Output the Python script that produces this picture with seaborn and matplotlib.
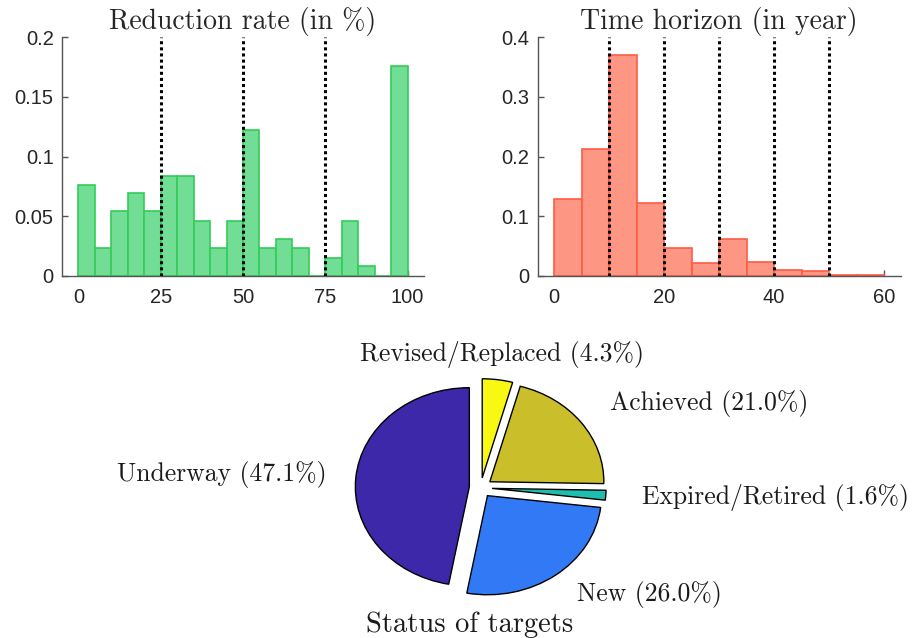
import numpy as np
import matplotlib
matplotlib.use("Agg")
import matplotlib.pyplot as plt
import seaborn as sns

# ---- data ----
rate_edges = list(range(0, 105, 5))
rate_heights = [0.076, 0.023, 0.054, 0.069, 0.054, 0.084, 0.084, 0.046, 0.023, 0.046,
                0.122, 0.023, 0.031, 0.023, 0.0, 0.015, 0.046, 0.008, 0.0, 0.176]
rate_lines = [25, 50, 75]

time_edges = list(range(0, 65, 5))
time_heights = [0.128, 0.212, 0.370, 0.1225, 0.047, 0.022, 0.062, 0.023, 0.010, 0.0085,
                0.0006, 0.001]
time_lines = [10, 20, 30, 40, 50]

status_labels = ["Revised/Replaced", "Achieved", "Expired/Retired", "New", "Underway"]
status_pct = [4.3, 21.0, 1.6, 26.0, 47.1]
status_colors = ["#f8f913", "#cabf2b", "#1fbdb0", "#3279f6", "#3d28a9"]

sns.set_style("ticks")
plt.rcParams['font.family'] = ['Liberation Sans', 'DejaVu Sans']
plt.rcParams['axes.formatter.use_mathtext'] = False

SERIF = 'cmr10'

fig = plt.figure(figsize=(9.13, 6.38), dpi=100)

def hist_panel(rect, edges, heights, lines, face, edge, xlim, ylim, yticks, xticks, title):
    ax = fig.add_axes(rect)
    centers = [(edges[i] + edges[i + 1]) / 2 for i in range(len(heights))]
    sns.histplot(x=centers, weights=heights, bins=edges, ax=ax,
                 color=face, edgecolor=edge, linewidth=1.2, alpha=1.0)
    for v in lines:
        ax.axvline(v, color='black', linestyle=(0, (1, 1)), linewidth=2.2, zorder=5)
    ax.set_xlim(*xlim)
    ax.set_ylim(*ylim)
    ax.set_yticks(yticks)
    ax.set_yticklabels([f"{t:g}" for t in yticks])
    ax.set_xticks(xticks)
    ax.set_xticklabels([str(t) for t in xticks])
    ax.set_xlabel("")
    ax.set_ylabel("")
    sns.despine(ax=ax)
    for s in ['left', 'bottom']:
        ax.spines[s].set_color('#555555')
        ax.spines[s].set_linewidth(1.0)
    ax.tick_params(axis='both', direction='in', length=4, width=1, color='#555555',
                   labelsize=14.5, labelcolor='#262626')
    ax.tick_params(axis='x', pad=9)
    ax.tick_params(axis='y', pad=6)
    ax.set_title(title, fontfamily=SERIF, fontsize=20, pad=6)
    return ax

hist_panel([0.0679, 0.5679, 0.3965, 0.3736], rate_edges, rate_heights, rate_lines,
           '#72dd95', '#33cc5a', (-5, 105), (0, 0.2), [0, 0.05, 0.1, 0.15, 0.2],
           [0, 25, 50, 75, 100], "Reduction rate (in %)")
hist_panel([0.5889, 0.5679, 0.3976, 0.3736], time_edges, time_heights, time_lines,
           '#fe9684', '#ff5c45', (-3, 63), (0, 0.4), [0, 0.1, 0.2, 0.3, 0.4],
           [0, 20, 40, 60], "Time horizon (in year)")

# ---- pie ----
axp = fig.add_axes([0.3392, 0.0337, 0.3746, 0.4038])
labels = [f"{l} ({p:.1f}%)" for l, p in zip(status_labels, status_pct)]
wedges, texts = axp.pie(status_pct, labels=labels, colors=status_colors,
                        startangle=90, counterclock=False,
                        explode=[0.1] * len(status_pct), labeldistance=1.32,
                        wedgeprops=dict(edgecolor='black', linewidth=1.0),
                        textprops=dict(fontfamily=SERIF, fontsize=18.5, color='#1a1a1a'))
axp.set_aspect('auto')
axp.set_xlim(-1.5, 1.5)
axp.set_ylim(-1.3, 1.3)
texts[0].set_ha('center')
texts[0].set_va('center')
texts[0].set_y(texts[0].get_position()[1] - 0.06)
texts[3].set_y(texts[3].get_position()[1] + 0.07)
texts[4].set_x(texts[4].get_position()[0] + 0.06)
fig.text(470 / 913, 1 - 625 / 638, "Status of targets", fontfamily=SERIF,
         fontsize=20.5, ha='center', va='center', color='#1a1a1a')

fig.savefig("out.png", dpi=100)
